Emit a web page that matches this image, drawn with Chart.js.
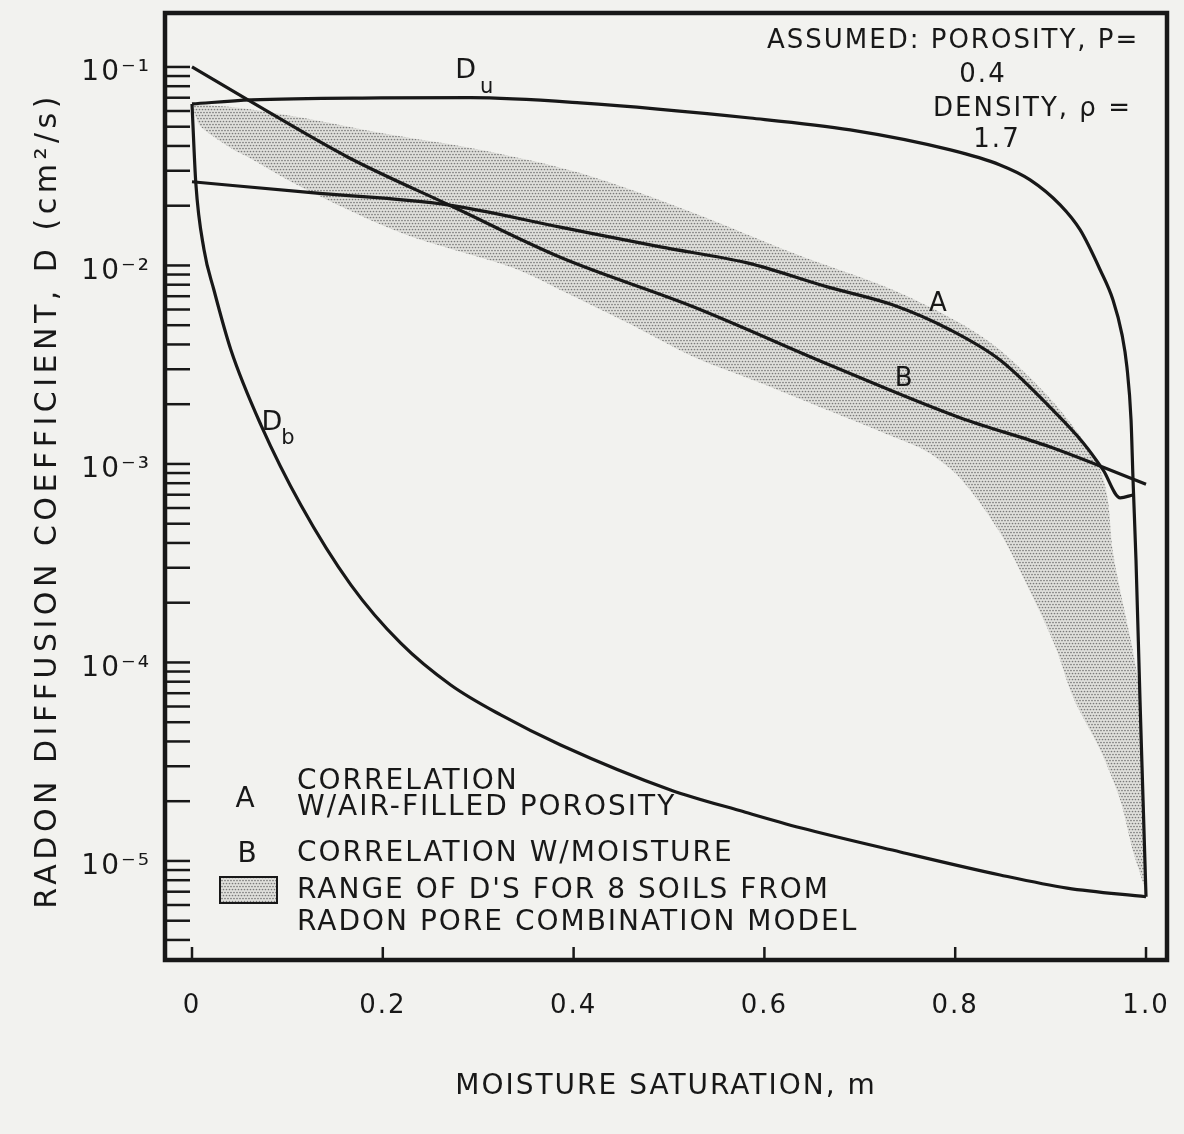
<!DOCTYPE html>
<html><head><meta charset="utf-8">
<script src="https://cdn.jsdelivr.net/npm/chart.js@4.4.1/dist/chart.umd.min.js"></script>
<style>html,body{margin:0;padding:0;background:#f2f2ef;}canvas{display:block}</style>
</head><body>
<canvas id="c" width="1184" height="1134"></canvas>
<script>
// ---------- data (moisture saturation m, diffusion coefficient D in cm2/s) ----------
const xTickValues = [0, 0.2, 0.4, 0.6, 0.8, 1.0];
const xTickLabels = ['0', '0.2', '0.4', '0.6', '0.8', '1.0'];
const yDecadeValues = [1e-1, 1e-2, 1e-3, 1e-4, 1e-5];
const yDecadeLabels = ['10⁻¹', '10⁻²', '10⁻³', '10⁻⁴', '10⁻⁵'];

const curveDu = [[0,0.0651],[0.062,0.0682],[0.198,0.0698],[0.292,0.0700],[0.407,0.0659],[0.585,0.0553],
  [0.690,0.0482],[0.795,0.0382],[0.847,0.0321],[0.8785,0.0270],[0.910,0.0202],[0.931,0.0151],[0.952,0.00949],
  [0.9654,0.0067],[0.9749,0.00447],[0.980,0.00308],[0.9843,0.00167],[0.9864,0.00083],[0.9895,0.000328],
  [0.9937,0.0000647],[0.9969,0.0000203],[1.0,0.0000066]];
const curveDb = [[0,0.0651],[0.004,0.0260],[0.0126,0.0120],[0.023,0.00752],[0.0408,0.00375],[0.0723,0.00157],
  [0.1141,0.000621],[0.1665,0.000246],[0.2188,0.000125],[0.2712,0.0000770],[0.3236,0.0000544],[0.3864,0.0000384],
  [0.5016,0.0000228],[0.5801,0.0000176],[0.6377,0.0000147],[0.7424,0.0000111],[0.8471,0.0000085],
  [0.9173,0.0000073],[1.0,0.0000066]];
const curveA = [[0,0.0264],[0.128,0.0232],[0.268,0.0202],[0.386,0.0156],[0.491,0.0124],[0.582,0.0103],
  [0.666,0.0078],[0.735,0.00632],[0.795,0.00473],[0.847,0.00334],[0.899,0.00194],[0.934,0.00128],
  [0.955,0.000933],[0.973,0.000675],[0.986,0.000698]];
const curveB = [[0,0.1],[0.0586,0.0682],[0.163,0.0352],[0.274,0.0197],[0.386,0.0110],[0.526,0.00618],
  [0.666,0.00319],[0.805,0.00171],[0.899,0.00122],[1.0,0.00079]];
const rangeUpper = [[0,0.0651],[0.051,0.0621],[0.128,0.0541],[0.198,0.0465],[0.303,0.0382],[0.407,0.0292],
  [0.526,0.0184],[0.630,0.01156],[0.735,0.00753],[0.805,0.00513],[0.847,0.00375],[0.899,0.00215],
  [0.934,0.00132],[0.952,0.000933],[0.960,0.000659],[0.965,0.000369],[0.975,0.000207],[0.986,0.000116],
  [0.994,0.0000647],[0.997,0.0000203],[1.0,0.0000069]];
const rangeLower = [[0,0.0651],[0.004,0.0560],[0.0094,0.0499],[0.044,0.0382],[0.0586,0.0352],[0.114,0.0249],
  [0.219,0.0146],[0.337,0.0097],[0.386,0.00753],[0.457,0.00513],[0.526,0.00346],[0.596,0.00256],
  [0.666,0.00187],[0.735,0.00137],[0.771,0.00115],[0.805,0.00085],[0.847,0.00045],[0.879,0.000225],
  [0.905,0.000120],[0.924,0.0000660],[0.952,0.0000362],[0.973,0.0000203],[0.986,0.0000114],
  [0.997,0.00000774],[1.0,0.0000069]];

// text content
const yTitle = 'RADON DIFFUSION COEFFICIENT, D (cm²/s)';
const xTitle = 'MOISTURE SATURATION, m';
const noteLines = ['ASSUMED: POROSITY, P=', '0.4', 'DENSITY, ρ =', '1.7'];
const legendTexts = ['CORRELATION', 'W/AIR-FILLED POROSITY', 'CORRELATION W/MOISTURE',
  'RANGE OF D\'S FOR 8 SOILS FROM', 'RADON PORE COMBINATION MODEL'];

// ---------- styles ----------
const INK = '#181818';
const FAMILY = '"DejaVu Sans", sans-serif';
const X_MIN = -0.0283, X_MAX = 1.022, Y_MIN = 3.17e-6, Y_MAX = 0.187;

const ctx = document.getElementById('c').getContext('2d');
function makePattern() {
  const c = document.createElement('canvas'); c.width = 6; c.height = 6;
  const g = c.getContext('2d');
  g.fillStyle = '#e0e0dc'; g.fillRect(0, 0, 6, 6);
  g.fillStyle = '#7a7a7a';
  [[1.5,1.5],[4.5,1.5],[0,4.5],[3,4.5],[6,4.5]].forEach(([x,y]) => { g.beginPath(); g.arc(x, y, 0.85, 0, Math.PI*2); g.fill(); });
  return ctx.createPattern(c, 'repeat');
}
const stipple = makePattern();
const pts = arr => arr.map(([m, d]) => ({x: m, y: d}));
const lineDs = (label, arr) => ({label, data: pts(arr), showLine: true, borderColor: INK, borderWidth: 3.2,
  pointRadius: 0, fill: false, cubicInterpolationMode: 'monotone', order: 1});

function drawText(c, s, x, y, size, align, spacing) {
  c.font = size + 'px ' + FAMILY;
  c.letterSpacing = (spacing === undefined ? 2 : spacing) + 'px';
  c.textAlign = align || 'left';
  c.textBaseline = 'alphabetic';
  c.fillText(s, x, y + size * 0.365);
}

const decor = {
  id: 'decor',
  beforeDraw(chart) { chart.ctx.letterSpacing = '2px'; },
  afterDraw(chart) {
    const c = chart.ctx, a = chart.chartArea, xs = chart.scales.x, ys = chart.scales.y;
    c.save();
    c.strokeStyle = INK; c.fillStyle = INK;
    c.lineWidth = 4.5;
    c.strokeRect(a.left, a.top, a.right - a.left, a.bottom - a.top);
    c.lineWidth = 2.5;
    ys.ticks.forEach(t => { const p = ys.getPixelForValue(t.value); c.beginPath(); c.moveTo(a.left, p); c.lineTo(a.left + 25, p); c.stroke(); });
    xs.ticks.forEach(t => { const p = xs.getPixelForValue(t.value); c.beginPath(); c.moveTo(p, a.bottom); c.lineTo(p, a.bottom - 13); c.stroke(); });

    // y axis title (rotated, wide letter spacing)
    c.save();
    c.translate(a.left - 120, (a.top + a.bottom) / 2 + 14);
    c.rotate(-Math.PI / 2);
    drawText(c, yTitle, 0, 0, 30, 'center', 4.5);
    c.restore();

    // curve labels (anchored in data space)
    const P = (m, d) => [xs.getPixelForValue(m), ys.getPixelForValue(d)];
    let [px, py] = P(0.288, 0.0989);
    drawText(c, 'D', px, py, 27, 'center'); drawText(c, 'u', px + 21, py + 17, 21, 'center');
    [px, py] = P(0.0848, 0.001667);
    drawText(c, 'D', px, py, 27, 'center'); drawText(c, 'b', px + 16, py + 16, 21, 'center');
    [px, py] = P(0.783, 0.00662); drawText(c, 'A', px, py, 26, 'center');
    [px, py] = P(0.747, 0.00277); drawText(c, 'B', px, py, 26, 'center');

    // assumptions note (top right)
    drawText(c, noteLines[0], a.left + 602, a.top + 26, 26, 'left');
    drawText(c, noteLines[1], a.left + 818, a.top + 60, 26, 'center');
    drawText(c, noteLines[2], a.left + 768, a.top + 94, 26, 'left');
    drawText(c, noteLines[3], a.left + 832, a.top + 125, 26, 'center');

    // legend (bottom left)
    const L = a.left, B = a.bottom;
    drawText(c, 'A', L + 81, B - 163, 28, 'center');
    drawText(c, legendTexts[0], L + 132, B - 181, 28, 'left');
    drawText(c, legendTexts[1], L + 132, B - 155, 28, 'left');
    drawText(c, 'B', L + 83, B - 108, 28, 'center');
    drawText(c, legendTexts[2], L + 132, B - 109, 28, 'left');
    c.fillStyle = stipple; c.fillRect(L + 55, B - 83, 57, 26);
    c.lineWidth = 2; c.strokeRect(L + 55, B - 83, 57, 26);
    c.fillStyle = INK;
    drawText(c, legendTexts[3], L + 132, B - 72, 28, 'left');
    drawText(c, legendTexts[4], L + 132, B - 40, 28, 'left');
    c.restore();
  }
};

new Chart(ctx, {
  type: 'scatter',
  data: {
    datasets: [
      lineDs('Du', curveDu),
      lineDs('Db', curveDb),
      lineDs('A', curveA),
      lineDs('B', curveB),
      {label: 'range', data: pts(rangeUpper.concat(rangeLower.slice().reverse())), showLine: true,
        borderWidth: 0, borderColor: 'rgba(0,0,0,0)', backgroundColor: stipple, fill: 'shape',
        pointRadius: 0, tension: 0.3, order: 10}
    ]
  },
  options: {
    responsive: false, animation: false, devicePixelRatio: 1,
    layout: {padding: {top: 13, right: 17, bottom: 0, left: 0}},
    plugins: {legend: {display: false}, tooltip: {enabled: false}},
    scales: {
      x: {
        type: 'linear', min: X_MIN, max: X_MAX,
        afterBuildTicks: s => { s.ticks = xTickValues.map(v => ({value: v})); },
        afterFit: s => { s.height = 174; s.paddingLeft = 0; s.paddingRight = 0; },
        ticks: {autoSkip: false, maxRotation: 0, padding: 31, color: INK, font: {family: FAMILY, size: 26},
          callback: v => { const i = xTickValues.findIndex(t => Math.abs(t - v) < 1e-9); return i >= 0 ? xTickLabels[i] : ''; }},
        grid: {display: false, drawTicks: false}, border: {display: false},
        title: {display: true, text: xTitle, color: INK, font: {family: FAMILY, size: 28},
          padding: {top: 0, bottom: 30}}
      },
      y: {
        type: 'logarithmic', min: Y_MIN, max: Y_MAX,
        afterBuildTicks: s => {
          const t = [];
          for (let e = -6; e <= -1; e++) for (let k = 1; k <= 9; k++) {
            const v = k * Math.pow(10, e);
            if (v >= Y_MIN && v <= Y_MAX) t.push({value: v});
          }
          s.ticks = t;
        },
        afterFit: s => { s.width = 165; s.paddingTop = 0; s.paddingBottom = 0; },
        ticks: {autoSkip: false, padding: 14, labelOffset: 6, color: INK, font: {family: FAMILY, size: 28},
          callback: v => { const i = yDecadeValues.findIndex(d => Math.abs(Math.log10(d) - Math.log10(v)) < 1e-6); return i >= 0 ? yDecadeLabels[i] : ''; }},
        grid: {display: false, drawTicks: false}, border: {display: false},
        title: {display: false}
      }
    }
  },
  plugins: [decor]
});
</script>
</body></html>
